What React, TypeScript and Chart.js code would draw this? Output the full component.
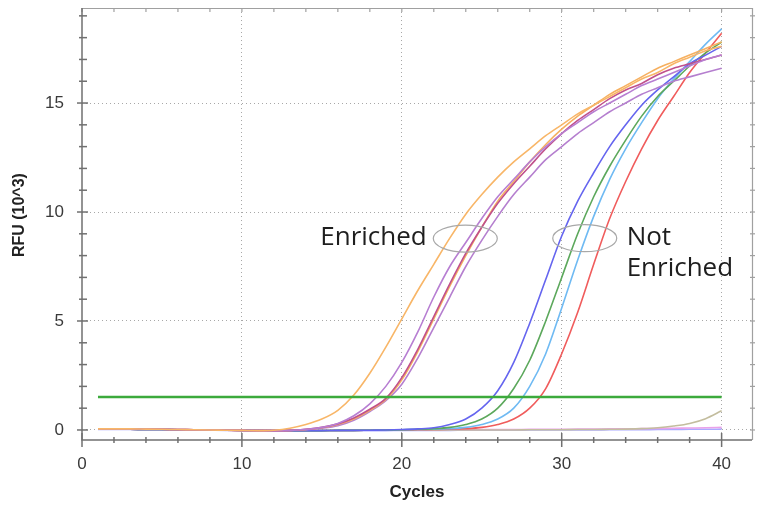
import React, { useEffect, useRef } from 'react';
import { Chart, registerables } from 'chart.js';

Chart.register(...registerables);

const cycles = [1, 2, 3, 4, 5, 6, 7, 8, 9, 10, 11, 12, 13, 14, 15, 16, 17, 18, 19, 20, 21, 22, 23, 24, 25, 26, 27, 28, 29, 30, 31, 32, 33, 34, 35, 36, 37, 38, 39, 40];

const xTickLabels = [0, 10, 20, 30, 40];
const yTickLabels = [0, 5, 10, 15];

const threshold = 1.51;

const orange1 = [0.05, 0.05, 0.05, 0.04, 0.03, 0.02, 0.01, 0.0, -0.01, -0.02, -0.03, -0.01, 0.08, 0.25, 0.5, 0.9, 1.6, 2.6, 3.8, 5.1, 6.4, 7.6, 8.8, 9.9, 10.8, 11.6, 12.3, 12.9, 13.5, 14.0, 14.5, 14.9, 15.3, 15.7, 16.1, 16.4, 16.8, 17.1, 17.4, 17.6];
const purple2 = [0.04, 0.05, 0.05, 0.04, 0.03, 0.02, 0.01, 0.0, -0.01, -0.02, -0.03, -0.03, -0.02, 0.03, 0.12, 0.3, 0.65, 1.2, 2.0, 3.1, 4.5, 6.1, 7.5, 8.6, 9.7, 10.7, 11.5, 12.3, 13.0, 13.6, 14.1, 14.6, 15.0, 15.4, 15.8, 16.1, 16.4, 16.7, 17.0, 17.2];
const magenta = [0.04, 0.05, 0.05, 0.04, 0.03, 0.02, 0.01, 0.0, -0.01, -0.02, -0.03, -0.03, -0.02, 0.03, 0.12, 0.28, 0.55, 0.95, 1.45, 2.4, 3.7, 5.2, 6.7, 8.1, 9.3, 10.4, 11.3, 12.1, 12.9, 13.6, 14.2, 14.7, 15.2, 15.6, 15.9, 16.3, 16.6, 16.8, 17.0, 17.2];
const orange2 = [0.05, 0.05, 0.05, 0.04, 0.03, 0.02, 0.01, 0.0, -0.01, -0.02, -0.03, -0.03, -0.02, 0.02, 0.1, 0.25, 0.5, 0.9, 1.4, 2.3, 3.6, 5.1, 6.6, 8.0, 9.3, 10.5, 11.4, 12.3, 13.1, 13.8, 14.4, 14.9, 15.4, 15.8, 16.2, 16.6, 16.9, 17.2, 17.5, 17.8];
const purple3 = [0.04, 0.05, 0.05, 0.04, 0.03, 0.02, 0.01, 0.0, -0.01, -0.02, -0.03, -0.03, -0.02, 0.01, 0.08, 0.2, 0.45, 0.85, 1.35, 2.1, 3.3, 4.7, 6.1, 7.5, 8.7, 9.8, 10.8, 11.6, 12.4, 13.0, 13.6, 14.1, 14.6, 15.0, 15.4, 15.7, 16.0, 16.2, 16.4, 16.6];
const blue = [0.03, 0.03, 0.03, 0.02, 0.02, 0.01, 0.01, 0.0, -0.01, -0.02, -0.02, -0.03, -0.03, -0.03, -0.03, -0.02, -0.02, -0.01, 0.0, 0.02, 0.05, 0.1, 0.25, 0.5, 1.0, 1.8, 3.1, 4.9, 6.9, 8.9, 10.5, 11.8, 13.0, 14.0, 14.9, 15.6, 16.2, 16.8, 17.2, 17.6];
const green = [0.03, 0.03, 0.03, 0.02, 0.02, 0.01, 0.01, 0.0, -0.01, -0.02, -0.02, -0.03, -0.03, -0.03, -0.03, -0.02, -0.02, -0.01, 0.0, 0.01, 0.03, 0.06, 0.12, 0.25, 0.5, 1.0, 1.9, 3.2, 5.0, 7.0, 9.0, 10.7, 12.1, 13.3, 14.4, 15.3, 16.0, 16.7, 17.3, 17.8];
const lightBlue = [0.03, 0.03, 0.03, 0.02, 0.02, 0.01, 0.01, 0.0, -0.01, -0.02, -0.02, -0.03, -0.03, -0.03, -0.03, -0.02, -0.02, -0.01, 0.0, 0.01, 0.02, 0.03, 0.06, 0.12, 0.25, 0.5, 1.0, 2.0, 3.5, 5.6, 7.8, 9.8, 11.5, 12.9, 14.1, 15.2, 16.1, 16.9, 17.7, 18.4];
const red = [0.03, 0.03, 0.03, 0.02, 0.02, 0.01, 0.01, 0.0, -0.01, -0.02, -0.02, -0.03, -0.03, -0.03, -0.03, -0.02, -0.02, -0.01, 0.0, 0.0, 0.01, 0.02, 0.03, 0.06, 0.12, 0.25, 0.5, 1.0, 1.9, 3.5, 5.4, 7.6, 9.7, 11.4, 12.9, 14.2, 15.3, 16.4, 17.3, 18.2];
const olive = [0.03, 0.03, 0.03, 0.02, 0.02, 0.01, 0.01, 0.0, -0.01, -0.02, -0.02, -0.03, -0.03, -0.03, -0.03, -0.02, -0.02, -0.01, 0.0, 0.0, 0.0, 0.0, 0.0, 0.0, 0.0, 0.0, 0.0, 0.01, 0.01, 0.01, 0.02, 0.02, 0.03, 0.04, 0.06, 0.1, 0.18, 0.3, 0.52, 0.88];
const pink = [0.03, 0.03, 0.03, 0.02, 0.02, 0.01, 0.01, 0.0, -0.01, -0.02, -0.02, -0.03, -0.03, -0.03, -0.03, -0.02, -0.02, -0.01, 0.0, 0.0, 0.0, 0.01, 0.01, 0.01, 0.02, 0.02, 0.02, 0.03, 0.03, 0.03, 0.04, 0.04, 0.05, 0.05, 0.06, 0.07, 0.08, 0.09, 0.1, 0.12];
const lavender = [0.02, 0.02, 0.02, 0.01, 0.01, 0.0, 0.0, -0.01, -0.02, -0.02, -0.03, -0.03, -0.04, -0.04, -0.04, -0.04, -0.03, -0.03, -0.03, -0.02, -0.02, -0.02, -0.02, -0.01, -0.01, -0.01, -0.01, 0.0, 0.0, 0.0, 0.0, 0.0, 0.01, 0.01, 0.01, 0.02, 0.02, 0.03, 0.03, 0.04];

const seriesNames = ['Orange 1', 'Purple 2', 'Magenta', 'Orange 2', 'Purple 3', 'Blue', 'Green', 'Light blue', 'Red', 'Olive', 'Pink', 'Lavender'];
const seriesValues = [orange1, purple2, magenta, orange2, purple3, blue, green, lightBlue, red, olive, pink, lavender];
const seriesColors = ['#f8b668', '#b77ed2', '#c0508c', '#f6b060', '#b57fcf', '#6565ef', '#5ca85c', '#6fbaf3', '#f05c5c', '#c3bd9e', '#eaa2ea', '#aaaaff'];

const annotationTexts = [
  { text: 'Enriched', x: 21.56, y: 8.49, align: 'right' },
  { text: 'Not', x: 34.06, y: 8.49, align: 'left' },
  { text: 'Enriched', x: 34.06, y: 7.06, align: 'left' },
];
const annotationEllipses = [
  { x: 23.97, y: 8.78 },
  { x: 31.44, y: 8.8 },
];

const framePlugin = {
  id: 'frame',
  afterDraw(chart: any) {
    const { ctx, chartArea: a, scales } = chart;
    const xs = scales.x;
    const ys = scales.y;
    ctx.save();
    // top & right border
    ctx.strokeStyle = '#a0a0a0';
    ctx.lineWidth = 1.2;
    ctx.beginPath();
    ctx.moveTo(a.left, a.top + 0.5);
    ctx.lineTo(a.right + 0.5, a.top + 0.5);
    ctx.lineTo(a.right + 0.5, a.bottom);
    ctx.stroke();
    // top & right tick marks
    xs.ticks.forEach((t: any) => {
      const px = xs.getPixelForValue(t.value);
      ctx.beginPath();
      ctx.moveTo(px, a.top);
      ctx.lineTo(px, a.top + 4);
      ctx.stroke();
    });
    ys.ticks.forEach((t: any) => {
      const py = ys.getPixelForValue(t.value);
      ctx.beginPath();
      ctx.moveTo(a.right - 2, py);
      ctx.lineTo(a.right + 3, py);
      ctx.stroke();
    });
    // left & bottom axes
    ctx.strokeStyle = '#707070';
    ctx.lineWidth = 1.5;
    ctx.beginPath();
    ctx.moveTo(a.left, a.top);
    ctx.lineTo(a.left, a.bottom);
    ctx.lineTo(a.right, a.bottom);
    ctx.stroke();
    xs.ticks.forEach((t: any) => {
      const px = xs.getPixelForValue(t.value);
      const major = xTickLabels.includes(t.value);
      const h = major ? 7 : 3;
      ctx.beginPath();
      ctx.moveTo(px, a.bottom - h);
      ctx.lineTo(px, a.bottom + h);
      ctx.stroke();
    });
    ys.ticks.forEach((t: any) => {
      const py = ys.getPixelForValue(t.value);
      const major = yTickLabels.includes(t.value);
      ctx.beginPath();
      ctx.moveTo(a.left - (major ? 5 : 3), py);
      ctx.lineTo(a.left + (major ? 6 : 5), py);
      ctx.stroke();
    });
    // annotations
    ctx.strokeStyle = '#a8a8a8';
    ctx.lineWidth = 1.2;
    annotationEllipses.forEach((e) => {
      ctx.beginPath();
      ctx.ellipse(xs.getPixelForValue(e.x), ys.getPixelForValue(e.y), 32, 13.5, 0, 0, Math.PI * 2);
      ctx.stroke();
    });
    ctx.fillStyle = '#1e1e1e';
    ctx.font = '26px "Open Sans"';
    ctx.textBaseline = 'alphabetic';
    annotationTexts.forEach((t) => {
      ctx.textAlign = t.align as CanvasTextAlign;
      ctx.fillText(t.text, xs.getPixelForValue(t.x), ys.getPixelForValue(t.y));
    });
    ctx.restore();
  },
};

export default function App() {
  const ref = useRef<HTMLCanvasElement | null>(null);
  useEffect(() => {
    if (!ref.current) return;
    const datasets: any[] = [
      {
        label: 'Threshold',
        data: [{ x: cycles[0], y: threshold }, { x: cycles[cycles.length - 1], y: threshold }],
        borderColor: '#3caa3c',
        borderWidth: 2.5,
        pointRadius: 0,
      },
      ...seriesValues.map((vals, i) => ({
        label: seriesNames[i],
        data: cycles.map((c, j) => ({ x: c, y: vals[j] })),
        borderColor: seriesColors[i],
        borderWidth: 1.6,
        pointRadius: 0,
        tension: 0.4,
        cubicInterpolationMode: 'monotone',
      })),
    ];
    const tickFont = { family: '"Liberation Sans", Arial, sans-serif', size: 17 };
    const chart = new Chart(ref.current, {
      type: 'line',
      data: { datasets },
      plugins: [framePlugin],
      options: {
        responsive: false,
        animation: false,
        layout: { padding: { top: 8, right: 9, left: 0, bottom: 0 } },
        plugins: { legend: { display: false }, tooltip: { enabled: false } },
        scales: {
          x: {
            type: 'linear',
            min: 0,
            max: 41.9,
            afterFit: (s: any) => { s.height = 67; s.paddingLeft = 0; s.paddingRight = 0; },
            border: { display: false, dash: [1, 3] },
            grid: {
              drawTicks: false,
              lineWidth: 1,
              color: (c: any) => (c.tick && c.tick.value !== 0 && xTickLabels.includes(c.tick.value) ? '#a8a8a8' : 'rgba(0,0,0,0)'),
            },
            ticks: {
              stepSize: 2,
              includeBounds: false,
              autoSkip: false,
              maxRotation: 0,
              padding: 14,
              color: '#3a3a3a',
              font: tickFont,
              callback: (v: any) => (xTickLabels.includes(v) ? String(v) : ''),
            },
            title: {
              display: true,
              text: 'Cycles',
              color: '#222',
              font: { family: '"Liberation Sans", Arial, sans-serif', size: 17, weight: 'bold' },
              padding: { top: 0, bottom: 4 },
            },
          },
          y: {
            type: 'linear',
            min: -0.46,
            max: 19.36,
            afterFit: (s: any) => { s.width = 82; s.paddingTop = 0; s.paddingBottom = 0; },
            border: { display: false, dash: [1, 3] },
            grid: {
              drawTicks: false,
              lineWidth: 1,
              color: (c: any) => (c.tick && yTickLabels.includes(c.tick.value) ? '#a8a8a8' : 'rgba(0,0,0,0)'),
            },
            ticks: {
              stepSize: 1,
              includeBounds: false,
              autoSkip: false,
              padding: 18,
              color: '#3a3a3a',
              font: tickFont,
              callback: (v: any) => (yTickLabels.includes(v) ? String(v) : ''),
            },
            title: {
              display: true,
              text: '    RFU (10^3)',
              color: '#222',
              font: { family: '"Liberation Sans", Arial, sans-serif', size: 16, weight: 'bold' },
              padding: { top: 10, bottom: 0 },
            },
          },
        },
      } as any,
    });
    return () => chart.destroy();
  }, []);
  return (
    <canvas
      ref={ref}
      width={761}
      height={507}
      style={{ position: 'absolute', left: 0, top: 0, width: 761, height: 507 }}
    />
  );
}
